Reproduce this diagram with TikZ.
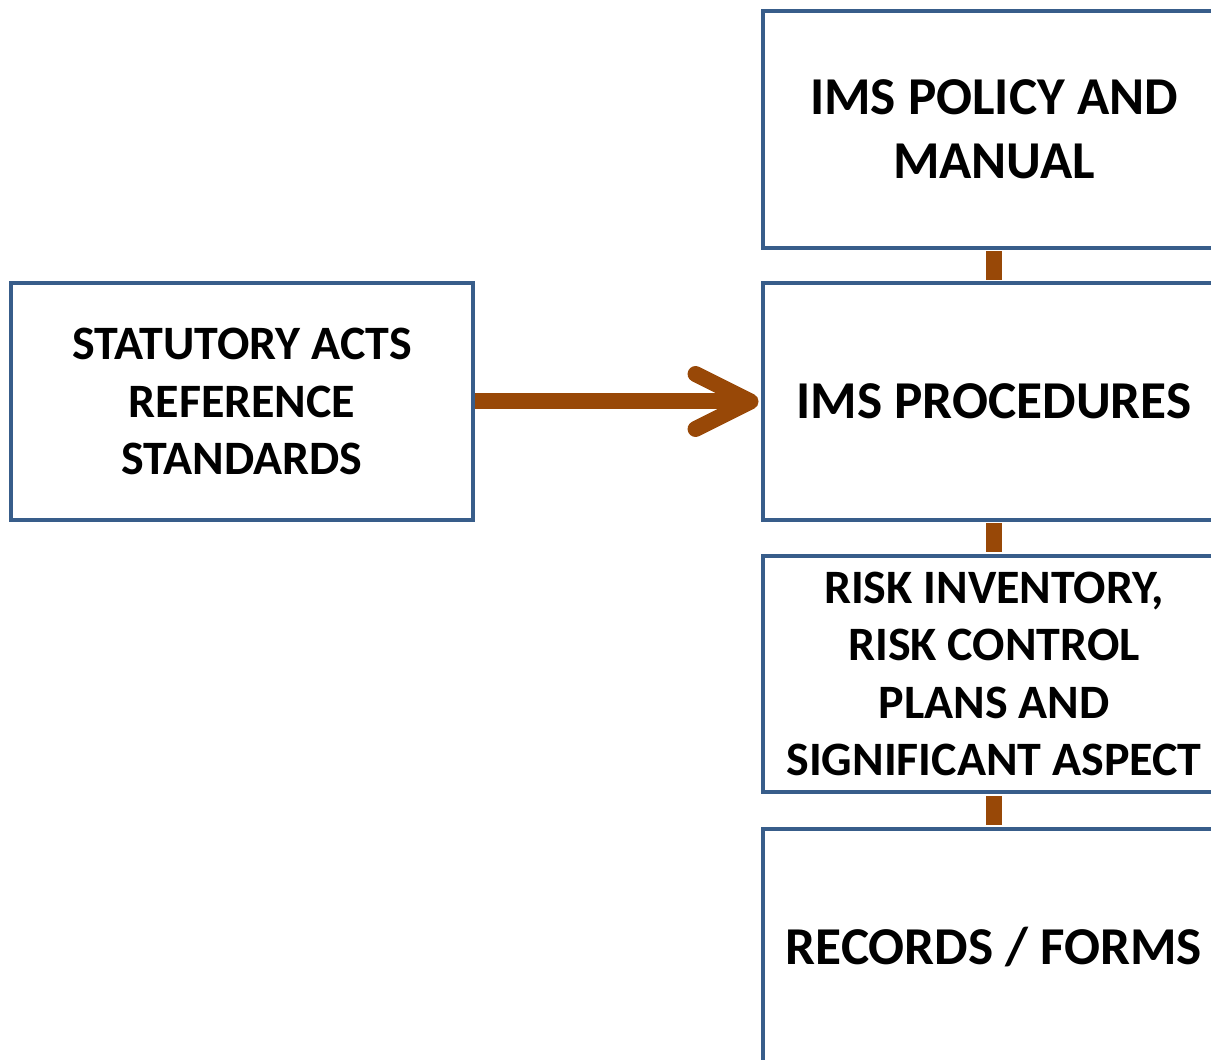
\documentclass[tikz,border=0pt]{standalone}
\usepackage{fontspec}
\setmainfont{Carlito}
\usetikzlibrary{arrows.meta, positioning}
\definecolor{boxblue}{RGB}{56, 93, 138}
\definecolor{linkbrown}{RGB}{152, 72, 7}
\tikzset{
  imsbox/.style = {draw = boxblue, line width = 0.08cm, fill = white, align = center,
                   minimum width = 9.24cm, minimum height = 4.74cm, inner sep = 0pt, font = \bfseries},
  bigtext/.style = {font = \bfseries\fontsize{30.3}{36.4}\selectfont},
  smalltext/.style = {font = \bfseries\fontsize{27.3}{32.6}\selectfont},
  link/.style = {draw = linkbrown, line width = 0.32cm, shorten > = 0.03cm, shorten < = 0.03cm}
}
\begin{document}
\begin{tikzpicture}[x = 0.02cm, y = -0.02cm]
\clip (0,0) rectangle (1211,1060);
\fill[white] (0,0) rectangle (1211,1060);

% right column
\node[imsbox, bigtext] (policy) at (994, 129.5) {IMS POLICY AND\\MANUAL};
\node[imsbox, bigtext] (proc) at (994, 401.5) {IMS PROCEDURES};
\node[imsbox, smalltext] (risk) at (994, 674) {RISK INVENTORY,\\RISK CONTROL\\PLANS AND\\SIGNIFICANT ASPECT};
\node[imsbox, bigtext] (records) at (994, 947) {RECORDS / FORMS};

% left box
\node[imsbox, smalltext] (acts) at (242, 401.5) {STATUTORY ACTS\\REFERENCE\\STANDARDS};

\draw[link] (policy) -- (proc);
\draw[link] (proc) -- (risk);
\draw[link] (risk) -- (records);
\draw[link, shorten < = 0cm, shorten > = 0.05cm, -{Straight Barb[length = 1.1cm, width = 1.1cm, round]}] (acts) -- (proc);
\end{tikzpicture}
\end{document}
